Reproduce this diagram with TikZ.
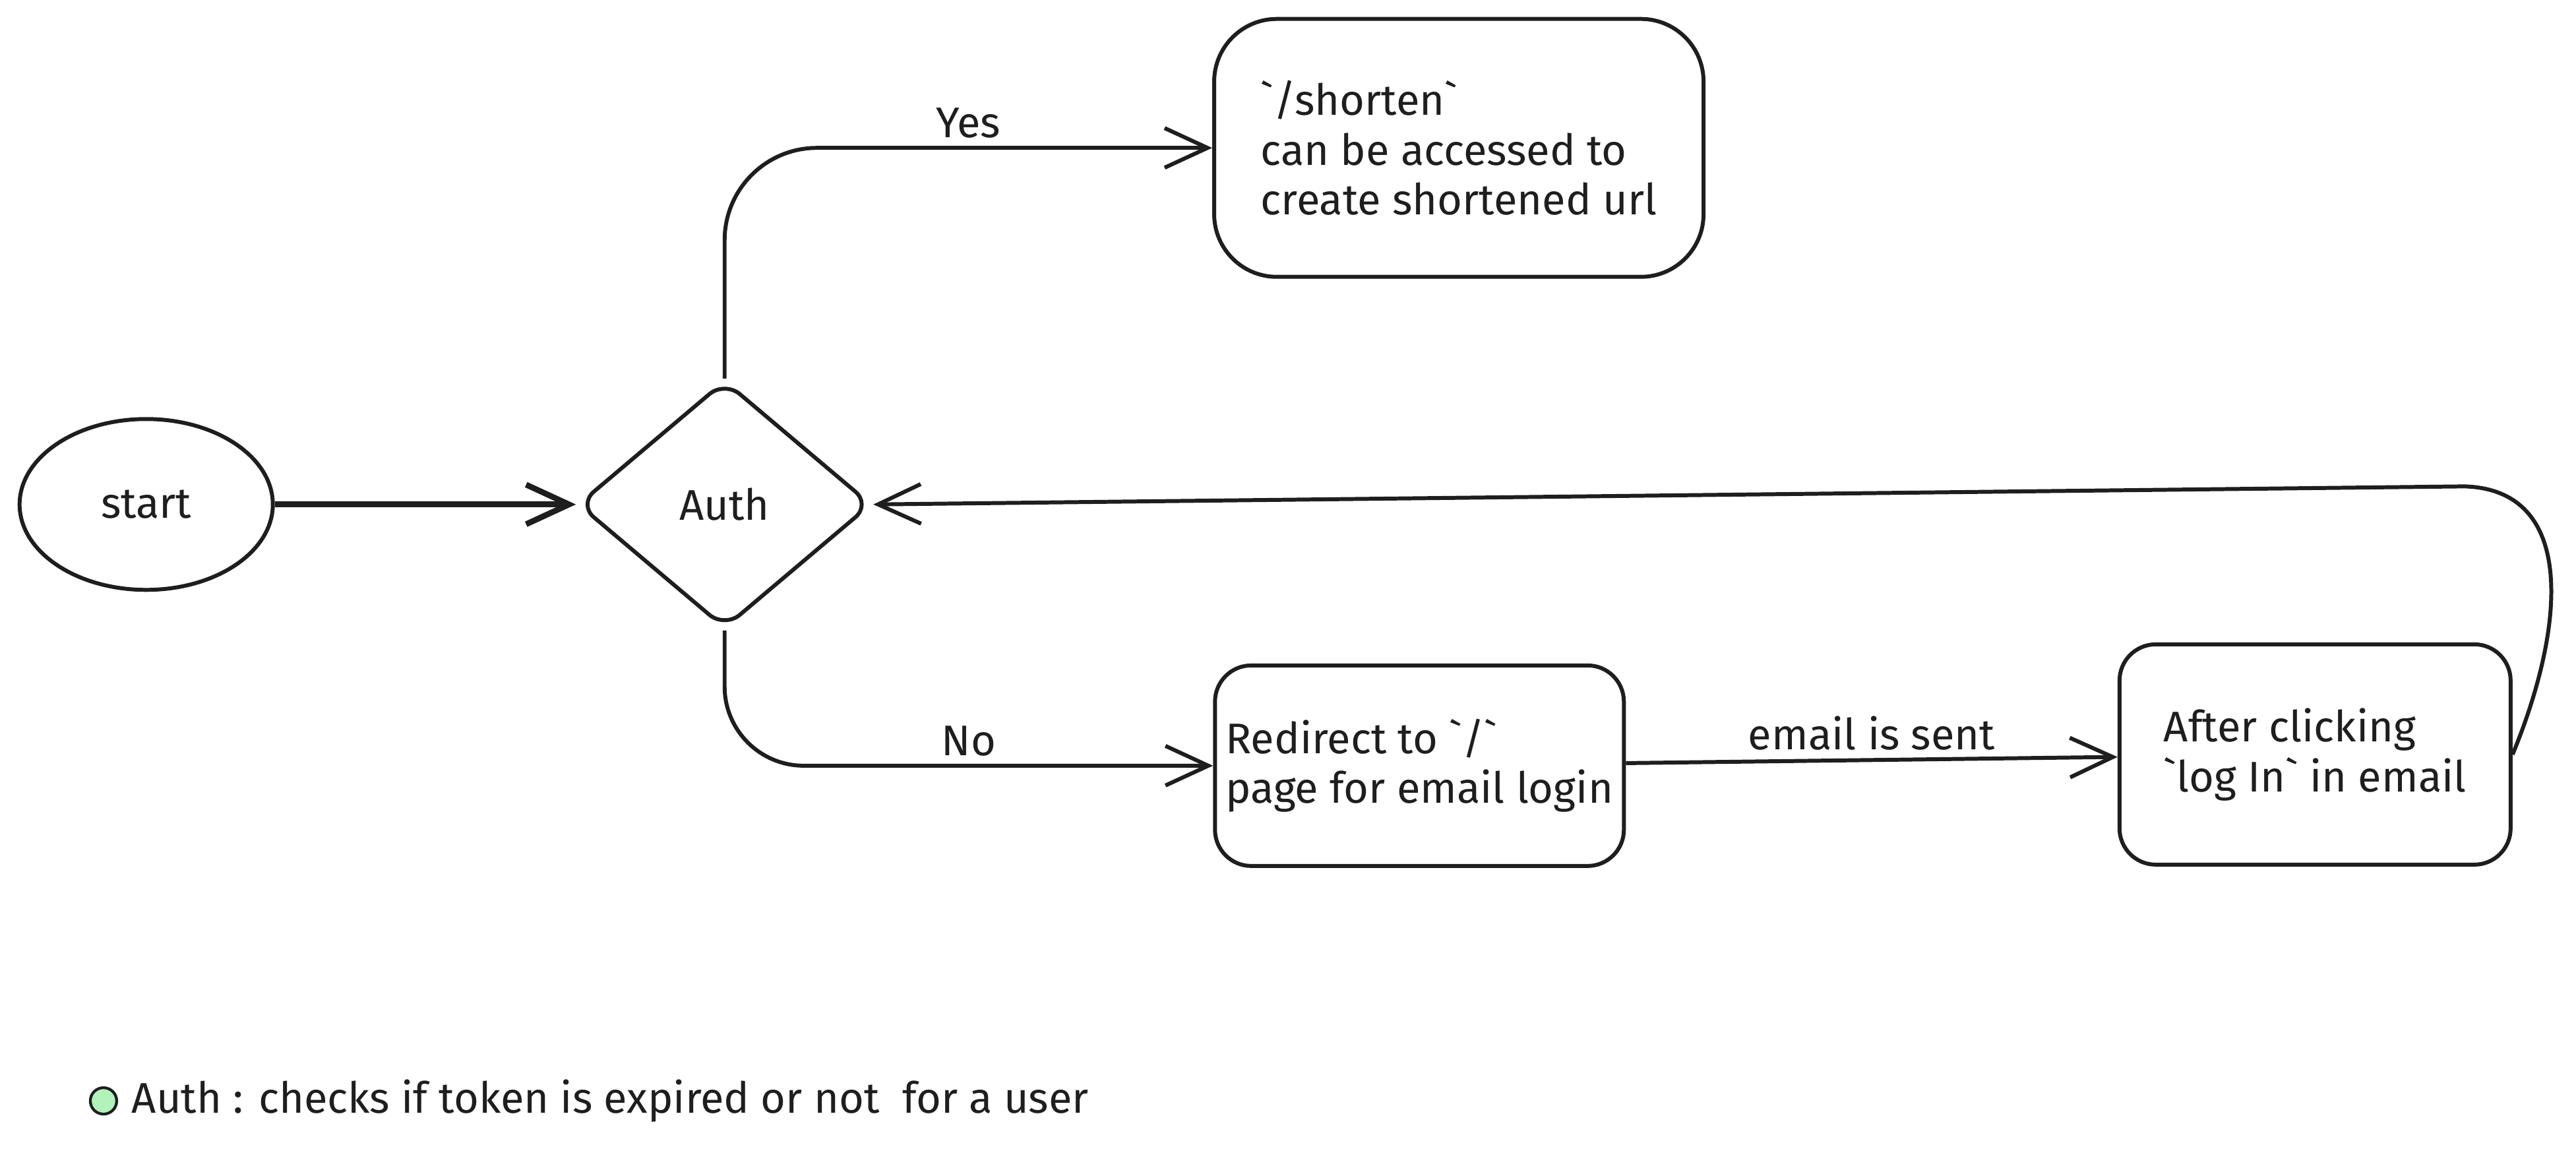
\documentclass[tikz,border=0pt]{standalone}
\usepackage{fontspec}
\setmainfont{Fira Sans}
\usetikzlibrary{shapes.geometric, positioning, arrows.meta}
\usepackage{xcolor}
\definecolor{ink}{HTML}{1E1E1E}
\definecolor{mint}{HTML}{B2F2BB}
\tikzset{
	node distance=3cm,
	>={Straight Barb[length=6.5mm,width=6mm]},
	every node/.style={font=\fontsize{18.5}{21.5}\selectfont, text=ink},
	box/.style={draw, rectangle, rounded corners=5.5mm, align=left},
	decision/.style={draw, diamond, rounded corners=3mm, inner sep=0pt,
		minimum width=44.5mm, minimum height=37.6mm},
	terminal/.style={draw, ellipse, minimum width=38.4mm, minimum height=25.9mm},
	dot/.style={draw, circle, fill=mint, minimum size=4mm, inner sep=0pt, line width=1.2pt}}

\begin{document}
\begin{tikzpicture}[x=0.2491mm, y=-0.2491mm, color=ink, line width=1.7pt]
		\useasboundingbox (0,0) rectangle (1568,700.1);

		\node[terminal] (start) at (89,307) {start};
		\node[decision, right of=start, node distance=87.7mm] (auth) {Auth};
		\node[box, rounded corners=9.5mm, minimum width=74.2mm, minimum height=39.1mm] (shorten) at (888,90)
			{\textasciigrave/shorten\textasciigrave\\can be accessed to\\create shortened url};
		\node[box, minimum width=62mm, minimum height=30.4mm] (redirect) at (864,466)
			{Redirect to \textasciigrave/\textasciigrave\\page for email login};
		\node[box, right of=redirect, node distance=135.8mm, yshift=1.7mm, minimum width=59.3mm, minimum height=33.4mm] (clicked)
			{After clicking\\\textasciigrave log In\textasciigrave{} in email};
		\coordinate (back) at (1500,296);

		\draw[->, line width=2.5pt] (start) -- (auth);
		\draw[->, rounded corners=14mm] (auth.north) |- node[pos=0.75, above] {Yes} (shorten.west);
		\draw[->, rounded corners=12mm] (auth.south) |- node[pos=0.75, above] {No} (redirect.west);
		\draw[->] (redirect) -- node[above] {email is sent} (clicked);
		\draw[->] (clicked.east) .. controls (1562,380) and (1568,298) .. (back) -- (auth.east);

		% legend
		\node[dot] (dot) at (63,670) {};
		\node[right=0.6mm of dot] (note) {Auth : checks if token is expired or not~~for a user};
	\end{tikzpicture}
\end{document}
